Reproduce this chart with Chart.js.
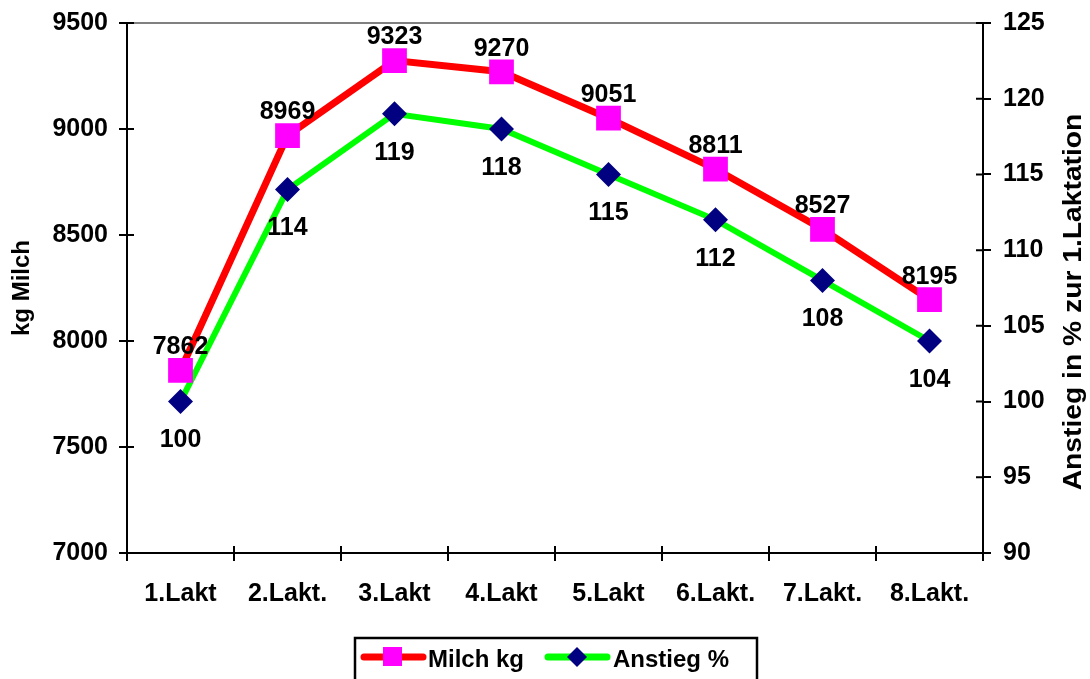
<!DOCTYPE html>
<html>
<head>
<meta charset="utf-8">
<script src="https://cdn.jsdelivr.net/npm/chart.js@4.4.0/dist/chart.umd.min.js"></script>
<style>
  html, body { margin: 0; padding: 0; background: #fff; }
  #wrap { width: 1090px; height: 679px; position: relative; }
</style>
</head>
<body>
<div id="wrap"><canvas id="milchChart" width="1090" height="679"></canvas></div>
<script>
const categories = ['1.Lakt', '2.Lakt.', '3.Lakt', '4.Lakt', '5.Lakt', '6.Lakt.', '7.Lakt.', '8.Lakt.'];
const milchKg = [7862, 8969, 9323, 9270, 9051, 8811, 8527, 8195];
const anstiegPct = [100, 114, 119, 118, 115, 112, 108, 104];
const leftTicks = [7000, 7500, 8000, 8500, 9000, 9500];
const rightTicks = [90, 95, 100, 105, 110, 115, 120, 125];

const FONT = 'Liberation Sans, Arial, sans-serif';

// value labels, inner tick marks, top border, axis titles, legend box
const extras = {
  id: 'extras',
  afterDatasetsDraw(chart) {
    const ctx = chart.ctx;
    ctx.save();
    ctx.font = 'bold 25px ' + FONT;
    ctx.fillStyle = '#000';
    ctx.textAlign = 'center';
    ctx.textBaseline = 'middle';
    chart.getDatasetMeta(0).data.forEach((pt, i) => {
      ctx.fillText(String(milchKg[i]), pt.x, pt.y - 23);
    });
    chart.getDatasetMeta(1).data.forEach((pt, i) => {
      ctx.fillText(String(anstiegPct[i]), pt.x, pt.y + 39);
    });
    ctx.restore();
  },
  afterDraw(chart) {
    const ctx = chart.ctx;
    const area = chart.chartArea;
    const yl = chart.scales.y;
    const yr = chart.scales.y1;
    const midY = (area.top + area.bottom) / 2;
    ctx.save();
    // top border
    ctx.strokeStyle = '#808080';
    ctx.lineWidth = 2;
    ctx.beginPath();
    ctx.moveTo(area.left, area.top);
    ctx.lineTo(area.right, area.top);
    ctx.stroke();
    // inner halves of tick marks
    ctx.strokeStyle = '#000';
    ctx.lineWidth = 2;
    ctx.beginPath();
    leftTicks.forEach(v => {
      const py = yl.getPixelForValue(v);
      ctx.moveTo(area.left, py); ctx.lineTo(area.left + 7, py);
    });
    rightTicks.forEach(v => {
      const py = yr.getPixelForValue(v);
      ctx.moveTo(area.right, py); ctx.lineTo(area.right - 7, py);
    });
    const step = (area.right - area.left) / categories.length;
    for (let i = 0; i <= categories.length; i++) {
      const px = area.left + step * i;
      ctx.moveTo(px, area.bottom); ctx.lineTo(px, area.bottom - 7);
    }
    ctx.stroke();
    ctx.restore();

    // axis titles, reading bottom to top
    ctx.save();
    ctx.font = 'bold 24px ' + FONT;
    ctx.fillStyle = '#000';
    ctx.textAlign = 'center';
    ctx.textBaseline = 'middle';
    ctx.translate(22, midY);
    ctx.rotate(-Math.PI / 2);
    ctx.fillText('kg Milch', 0, 0);
    ctx.restore();

    ctx.save();
    ctx.font = 'bold 25px ' + FONT;
    ctx.fillStyle = '#000';
    ctx.textAlign = 'center';
    ctx.textBaseline = 'middle';
    ctx.translate(1074, 302);
    ctx.rotate(-Math.PI / 2);
    ctx.scale(1.13, 1);
    ctx.fillText('Anstieg in % zur 1.Laktation', 0, 0);
    ctx.restore();

    // legend
    ctx.save();
    ctx.strokeStyle = '#000';
    ctx.lineWidth = 2.5;
    ctx.strokeRect(355, 638, 402, 50);
    ctx.lineCap = 'round';
    ctx.strokeStyle = '#ff0000';
    ctx.lineWidth = 7;
    ctx.beginPath(); ctx.moveTo(364, 657); ctx.lineTo(423, 657); ctx.stroke();
    ctx.fillStyle = '#ff00ff';
    ctx.fillRect(383, 647, 19, 19);
    ctx.strokeStyle = '#00ff00';
    ctx.lineWidth = 7;
    ctx.beginPath(); ctx.moveTo(548, 657); ctx.lineTo(607, 657); ctx.stroke();
    ctx.fillStyle = '#000080';
    ctx.beginPath();
    ctx.moveTo(577, 647); ctx.lineTo(587, 657); ctx.lineTo(577, 667); ctx.lineTo(567, 657);
    ctx.closePath(); ctx.fill();
    ctx.fillStyle = '#000';
    ctx.font = 'bold 24px ' + FONT;
    ctx.textAlign = 'left';
    ctx.textBaseline = 'alphabetic';
    ctx.fillText('Milch kg', 428, 667);
    ctx.fillText('Anstieg %', 613, 667);
    ctx.restore();
  }
};

new Chart(document.getElementById('milchChart'), {
  type: 'line',
  data: {
    labels: categories,
    datasets: [{
      label: 'Milch kg',
      data: milchKg,
      yAxisID: 'y',
      borderColor: '#ff0000',
      borderWidth: 7,
      pointStyle: 'rect',
      pointRadius: 17.5,
      pointBackgroundColor: '#ff00ff',
      pointBorderColor: '#ff00ff',
      pointBorderWidth: 0,
      tension: 0
    }, {
      label: 'Anstieg %',
      data: anstiegPct,
      yAxisID: 'y1',
      borderColor: '#00ff00',
      borderWidth: 6,
      pointStyle: 'rectRot',
      pointRadius: 12.5,
      pointBackgroundColor: '#000080',
      pointBorderColor: '#000080',
      pointBorderWidth: 0,
      tension: 0
    }]
  },
  options: {
    responsive: false,
    animation: false,
    layout: { padding: { top: 23, left: 0, right: 0, bottom: 0 } },
    plugins: {
      legend: { display: false },
      tooltip: { enabled: false }
    },
    scales: {
      x: {
        offset: true,
        grid: { display: true, drawOnChartArea: false, offset: true, color: '#000', lineWidth: 2, tickLength: 8 },
        border: { color: '#000', width: 2 },
        ticks: { color: '#000', font: { family: FONT, size: 25, weight: 'bold' }, padding: 18, maxRotation: 0 },
        afterFit(scale) { scale.height = 126; scale.paddingLeft = 0; scale.paddingRight = 0; }
      },
      y: {
        position: 'left',
        min: 7000, max: 9500,
        afterBuildTicks(scale) { scale.ticks = leftTicks.map(v => ({ value: v })); },
        grid: { display: true, drawOnChartArea: false, color: '#000', lineWidth: 2, tickLength: 8 },
        border: { color: '#000', width: 2 },
        ticks: { color: '#000', font: { family: FONT, size: 25, weight: 'bold' }, padding: 11, callback: v => String(v) },
        afterFit(scale) { scale.width = 127; scale.paddingTop = 0; scale.paddingBottom = 0; }
      },
      y1: {
        position: 'right',
        min: 90, max: 125,
        afterBuildTicks(scale) { scale.ticks = rightTicks.map(v => ({ value: v })); },
        grid: { display: true, drawOnChartArea: false, color: '#000', lineWidth: 2, tickLength: 8 },
        border: { color: '#000', width: 2 },
        ticks: { color: '#000', font: { family: FONT, size: 25, weight: 'bold' }, padding: 12, callback: v => String(v) },
        afterFit(scale) { scale.width = 107; scale.paddingTop = 0; scale.paddingBottom = 0; }
      }
    }
  },
  plugins: [extras]
});
</script>
</body>
</html>
